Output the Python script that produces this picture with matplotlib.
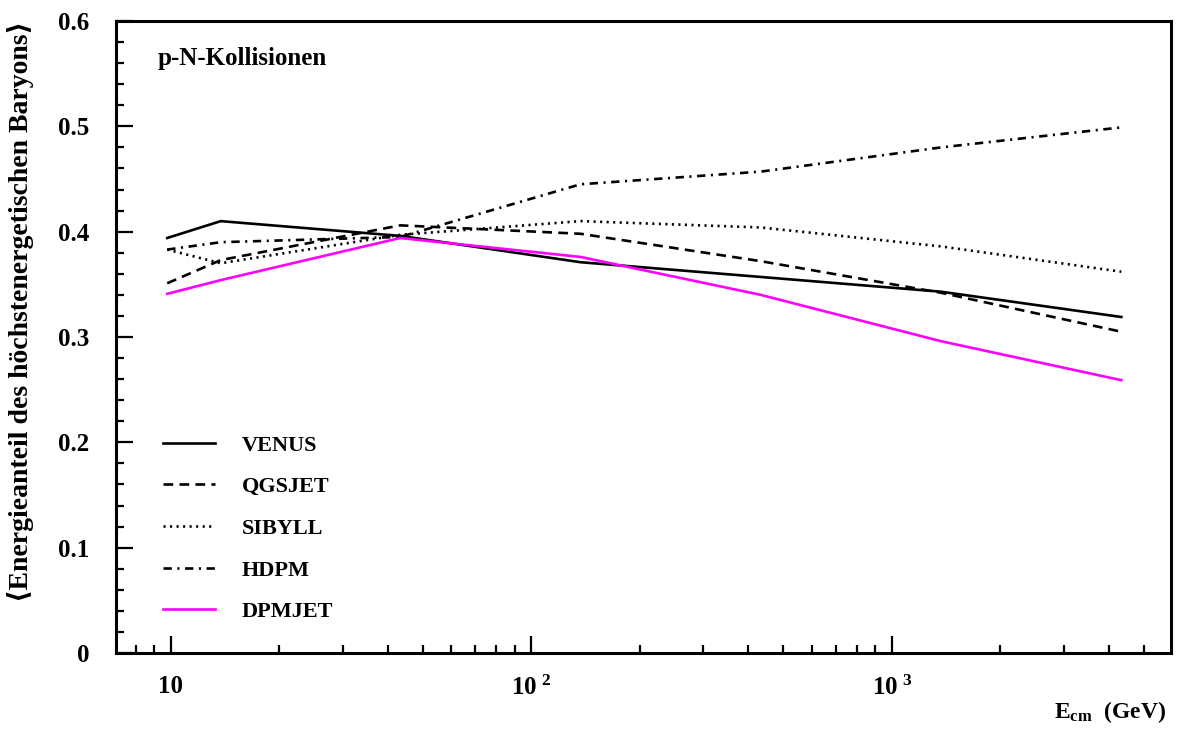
import numpy as np
import matplotlib
matplotlib.use("Agg")
import matplotlib.pyplot as plt
from matplotlib.ticker import LogLocator, FixedLocator, NullFormatter, MultipleLocator

# fonts: Times-like bold everywhere
plt.rcParams['font.family'] = ['Liberation Serif', 'DejaVu Serif']
plt.rcParams['font.weight'] = 'bold'
plt.rcParams['mathtext.fontset'] = 'custom'
plt.rcParams['mathtext.rm'] = 'Liberation Serif:bold'
plt.rcParams['mathtext.bf'] = 'Liberation Serif:bold'
plt.rcParams['mathtext.it'] = 'Liberation Serif:bold'
plt.rcParams['lines.scale_dashes'] = False

# centre-of-mass energies (GeV)
ecm = [9.78, 13.76, 43.3, 137, 433, 1370, 4332]

# mean energy fraction of the leading baryon
venus = [0.394, 0.410, 0.396, 0.371, 0.357, 0.343, 0.319]
qgsjet = [0.351, 0.373, 0.406, 0.398, 0.372, 0.342, 0.305]
sibyll = [0.383, 0.370, 0.397, 0.410, 0.404, 0.386, 0.362]
hdpm = [0.383, 0.390, 0.395, 0.445, 0.457, 0.480, 0.499]
dpmjet = [0.341, 0.354, 0.394, 0.376, 0.340, 0.296, 0.259]

labels = ['VENUS', 'QGSJET', 'SIBYLL', 'HDPM', 'DPMJET']

fig = plt.figure(figsize=(11.79, 7.29), dpi=100)
ax = fig.add_axes([116 / 1179, 1 - 653 / 729, 1055 / 1179, 632 / 729])

lw = 1.9
ax.plot(ecm, venus, color='black', lw=lw, label=labels[0])
ax.plot(ecm, qgsjet, color='black', lw=lw, dashes=(7, 4.5), label=labels[1])
ax.plot(ecm, sibyll, color='black', lw=lw, dashes=(1.5, 3.2), label=labels[2])
ax.plot(ecm, hdpm, color='black', lw=lw, dashes=(6, 4, 1.5, 4), label=labels[3])
ax.plot(ecm, dpmjet, color='#ff00ff', lw=lw, label=labels[4])

ax.set_xscale('log')
ax.set_xlim(7.05, 5950)
ax.set_ylim(0, 0.6)

# ticks
ax.xaxis.set_major_locator(FixedLocator([10, 100, 1000]))
ax.xaxis.set_minor_locator(LogLocator(base=10, subs=np.arange(2, 10)))
ax.xaxis.set_minor_formatter(NullFormatter())
ax.set_xticklabels(['10', r'$10^{\,\,2}$', r'$10^{\,\,3}$'])
ax.yaxis.set_major_locator(MultipleLocator(0.1))
ax.yaxis.set_minor_locator(MultipleLocator(0.02))
ax.set_yticks([0, 0.1, 0.2, 0.3, 0.4, 0.5, 0.6])
ax.set_yticklabels(['0', '0.1', '0.2', '0.3', '0.4', '0.5', '0.6'])

ax.tick_params(which='both', direction='in', width=1.6, labelsize=18,
               top=False, right=False)
ax.tick_params(which='major', length=12.5)
ax.tick_params(which='minor', length=6)
ax.tick_params(axis='y', pad=19)
ax.tick_params(axis='x', pad=16)
for s in ax.spines.values():
    s.set_linewidth(2.2)

ax.set_ylabel('\u27e8Energieanteil des h\u00f6chstenergetischen Baryons\u27e9',
              fontsize=20, fontweight='bold',
              family=['Liberation Serif', 'DejaVu Serif'])
ax.yaxis.set_label_coords(-0.078, 0.541)
fig.text(1166 / 1179, 1 - 712 / 729, r'$\mathbf{E_{cm}}$  (GeV)',
         ha='right', va='center', fontsize=17, fontweight='bold')

ax.text(0.039, 0.941, 'p-N-Kollisionen', transform=ax.transAxes,
        fontsize=18, fontweight='bold', va='center', ha='left')

leg = ax.legend(loc='upper left', bbox_to_anchor=(0.0445, 0.345), frameon=False,
                fontsize=16, handlelength=2.35, handletextpad=1.2,
                labelspacing=0.95, borderpad=0, borderaxespad=0)

plt.savefig('out.png', dpi=100)
